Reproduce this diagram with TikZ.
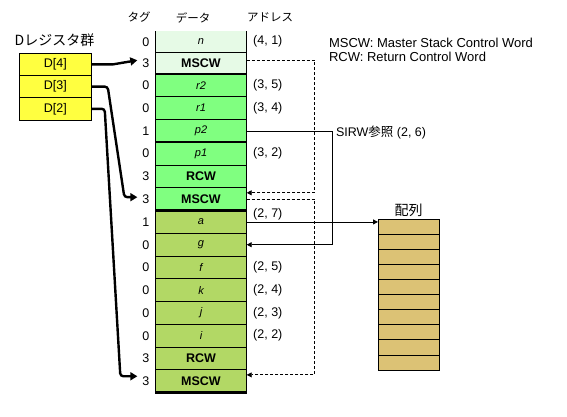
\documentclass[tikz,border=0pt]{standalone}
\usepackage{fontspec}
\setmainfont{Liberation Sans}
\newfontfamily\jpfont{Noto Sans CJK JP}
\usepackage{tikz}
\usetikzlibrary{calc,positioning,arrows.meta}
\usepackage{xcolor}
\definecolor{paleframe}{HTML}{E6FAE6}
\definecolor{midframe}{HTML}{80FF80}
\definecolor{lowframe}{HTML}{B2D865}
\definecolor{dregfill}{HTML}{FFFF40}
\definecolor{arrayfill}{HTML}{DCC275}

\begin{document}
\begin{tikzpicture}[
    x=1pt, y=-1pt,
    every node/.style={font=\fontsize{12.5}{14}\selectfont, inner sep=0pt, outer sep=0pt},
    cell/.style={minimum width=91.4pt, minimum height=22.76pt},
    topcell/.style={cell, minimum height=21.5pt, fill=paleframe},
    midcell/.style={cell, fill=midframe},
    lowcell/.style={cell, fill=lowframe},
    var/.style={font=\fontsize{11}{13}\selectfont\itshape},
    ctl/.style={font=\fontsize{12.5}{14}\selectfont\bfseries},
    tagnum/.style={left=6pt of #1},
    addr/.style={right=6.5pt of #1},
    head/.style={font=\fontsize{11.5}{13}\selectfont\jpfont},
    biglabel/.style={font=\fontsize{14}{16}\selectfont\jpfont},
    dreg/.style={draw, fill=dregfill, line width=0.8pt, minimum width=72.7pt, minimum height=22.2pt},
    dlink/.style={line width=2.4pt, -{Triangle[length=7pt,width=8pt]}},
    dashlink/.style={line width=0.8pt, dash pattern=on 3pt off 2pt, -{Triangle[length=5pt,width=5pt]}},
    plainlink/.style={line width=0.8pt, -{Triangle[length=5pt,width=5pt]}}
  ]
  \useasboundingbox (0,0) rectangle (567,416);

  % headers
  \node[head] (hTag) at (139,17.5) {タグ};
  \node[head] (hData) at (193,17.5) {データ};
  \node[head] (hAddr) at (270,17.5) {アドレス};

  % stack
  \node[topcell, var] (c1) at (201,41.75) {n};
  \node[topcell, ctl, below=0pt of c1] (c2) {MSCW};
  \node[midcell, var, below=0pt of c2] (c3) {r2};
  \node[midcell, var, below=0pt of c3] (c4) {r1};
  \node[midcell, var, below=0pt of c4] (c5) {p2};
  \node[midcell, var, below=0pt of c5] (c6) {p1};
  \node[midcell, ctl, below=0pt of c6] (c7) {RCW};
  \node[midcell, ctl, below=0pt of c7] (c8) {MSCW};
  \node[lowcell, var, below=0pt of c8] (c9) {a};
  \node[lowcell, var, below=0pt of c9] (c10) {g};
  \node[lowcell, var, below=0pt of c10] (c11) {f};
  \node[lowcell, var, below=0pt of c11] (c12) {k};
  \node[lowcell, var, below=0pt of c12] (c13) {j};
  \node[lowcell, var, below=0pt of c13] (c14) {i};
  \node[lowcell, ctl, below=0pt of c14] (c15) {RCW};
  \node[lowcell, ctl, below=0pt of c15] (c16) {MSCW};

  \foreach \r in {1,3,4,6,7,9,10,11,12,13,14,15}
    \draw[line width=0.8pt] (c\r.south west) -- (c\r.south east);
  \foreach \r in {2,5,8,16}
    \draw[line width=2.4pt] (c\r.south west) -- (c\r.south east);
  \draw[line width=0.8pt] (c1.north west) -- (c16.south west)
    (c1.north east) -- (c16.south east);

  % tags
  \node[tagnum=c1] (t1) {0};
  \node[tagnum=c2] (t2) {3};
  \node[tagnum=c3] (t3) {0};
  \node[tagnum=c4] (t4) {0};
  \node[tagnum=c5] (t5) {1};
  \node[tagnum=c6] (t6) {0};
  \node[tagnum=c7] (t7) {3};
  \node[tagnum=c8] (t8) {3};
  \node[tagnum=c9] (t9) {1};
  \node[tagnum=c10] (t10) {0};
  \node[tagnum=c11] (t11) {0};
  \node[tagnum=c12] (t12) {0};
  \node[tagnum=c13] (t13) {0};
  \node[tagnum=c14] (t14) {0};
  \node[tagnum=c15] (t15) {3};
  \node[tagnum=c16] (t16) {3};

  % addresses
  \node[addr=c1] (a1) {(4, 1)};
  \node[addr=c3] (a3) {(3, 5)};
  \node[addr=c4] (a4) {(3, 4)};
  \node[addr=c6] (a6) {(3, 2)};
  \node[addr=c9, yshift=8pt] (a9) {(2, 7)};
  \node[addr=c11] (a11) {(2, 5)};
  \node[addr=c12] (a12) {(2, 4)};
  \node[addr=c13] (a13) {(2, 3)};
  \node[addr=c14] (a14) {(2, 2)};

  % D registers
  \node[biglabel] (dlbl) at (54.5,40) {Dレジスタ群};
  \node[dreg] (d4) at (55.35,64.4) {D[4]};
  \node[dreg, below=0pt of d4] (d3) {D[3]};
  \node[dreg, below=0pt of d3] (d2) {D[2]};

  \draw[dlink] (d4.east) -- ++(21,0) -- ($(t2.west)+(-5,-3)$);
  \draw[dlink, rounded corners=3pt] (d3.east) -- ++(16,0)
    -- ($(t8.west)+(-18,-2)$) -- ($(t8.west)+(-5,-2)$);
  \draw[dlink, rounded corners=3pt] (d2.east) -- ++(13,0)
    -- ($(t16.west)+(-22,-5)$) -- ($(t16.west)+(-5,-5)$);

  % legend
  \node[anchor=west, align=left, font=\fontsize{13}{14}\selectfont] (legend) at (329,49.7)
    {MSCW: Master Stack Control Word\\RCW: Return Control Word};

  % control word links
  \draw[dashlink] ($(c2.east)+(0,-3)$) -| ($(c8.north east)+(68,5)$) -- ($(c8.north east)+(0,5)$);
  \draw[dashlink] (c8.east) -| ($(c16.north east)+(68,5)$) -- ($(c16.north east)+(0,5)$);

  % SIRW
  \node[anchor=west] (sirw) at (336,132.7) {SIRW{\jpfont 参照} (2, 6)};
  \draw[plainlink] (c5.east) -| ($(c10.east)+(86,0)$) -- (c10.east);

  % array
  \node[draw, fill=arrayfill, line width=0.8pt, minimum width=61.3pt, minimum height=150.7pt] (arr) at (408.65,294.65) {};
  \foreach \k in {1,...,9}
    \draw[line width=0.8pt] ($(arr.north west)!\k/10!(arr.south west)$) -- ($(arr.north east)!\k/10!(arr.south east)$);
  \node[biglabel, above=3pt of arr] (arrlbl) {配列};
  \draw[plainlink] (c9.east) -- (c9.east -| arr.west);
\end{tikzpicture}
\end{document}
